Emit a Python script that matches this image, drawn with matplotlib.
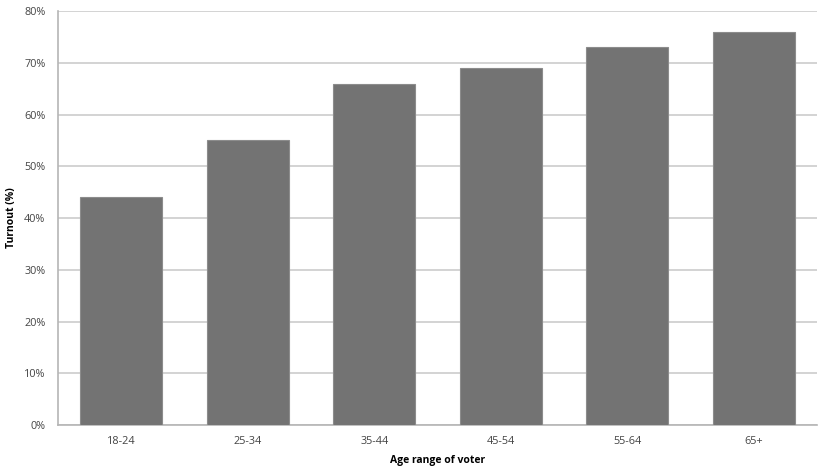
import numpy as np
from matplotlib import pyplot as plt
from matplotlib.ticker import FuncFormatter

plt.rcParams['font.family'] = ['Open Sans', 'DejaVu Sans']

age_ranges = ["18-24", "25-34", "35-44", "45-54", "55-64", "65+"]
turnout = [44, 55, 66, 69, 73, 76]

fig = plt.figure(figsize=(8.26, 4.73), dpi=100)
ax = fig.add_axes([0.0702, 0.1015, 0.919, 0.875])

x = np.arange(len(age_ranges))
ax.bar(x, turnout, width=0.65, color="#737373", edgecolor="#8c8c8c", linewidth=0.8, zorder=3)

ax.set_xlim(-0.5, len(age_ranges) - 0.5)
ax.set_ylim(0, 80)
ax.set_yticks(np.arange(0, 81, 10))
ax.yaxis.set_major_formatter(FuncFormatter(lambda v, p: "%d%%" % v))
ax.set_xticks(x)
ax.set_xticklabels(age_ranges)

ax.grid(axis="y", color="#d0d0d0", linewidth=1.3, zorder=0)
ax.tick_params(axis="both", length=0, labelsize=7.8, colors="#444444", pad=9)
ax.tick_params(axis="x", pad=8)

for s in ["top", "right"]:
    ax.spines[s].set_visible(False)
for s in ["left", "bottom"]:
    ax.spines[s].set_color("#b5b5b5")
    ax.spines[s].set_linewidth(1.2)

ax.set_xlabel("Age range of voter", fontsize=7.5, fontweight="bold", labelpad=6)
ax.set_ylabel("Turnout (%)", fontsize=7.5, fontweight="bold", labelpad=5)

plt.savefig("out.png")
